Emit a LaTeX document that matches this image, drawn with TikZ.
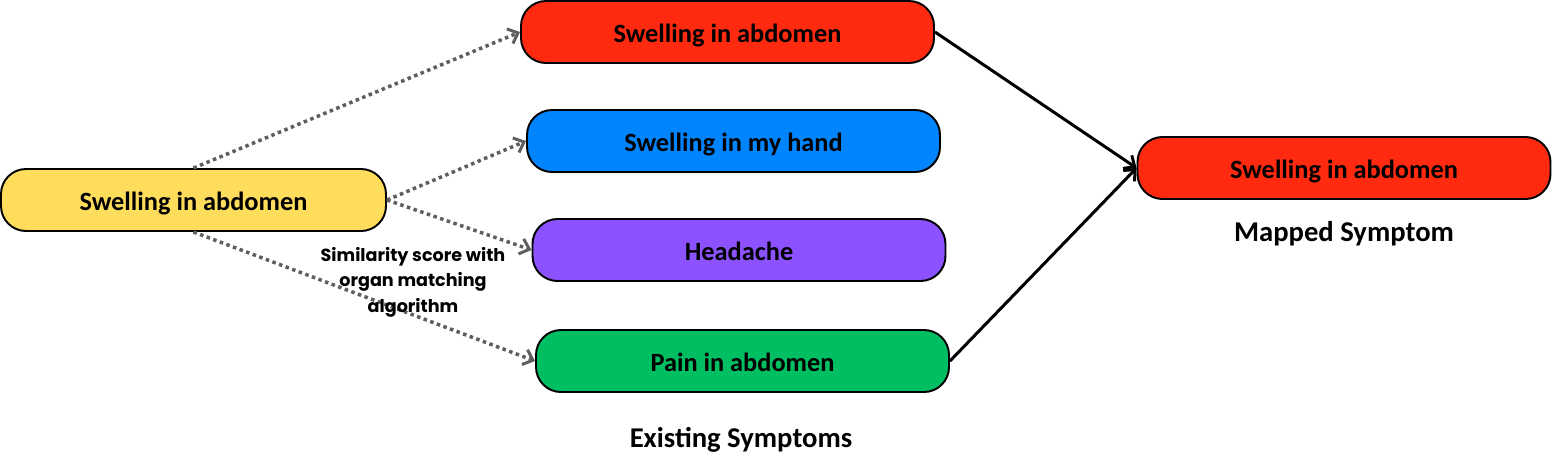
\documentclass[tikz,border=0pt]{standalone}
\usepackage{fontspec}
\setmainfont{Carlito}
\newfontfamily\popfont{Poppins}
\usetikzlibrary{arrows.meta,calc,positioning}

\definecolor{symYellow}{HTML}{FFDD5C}
\definecolor{symRed}{HTML}{FF2A10}
\definecolor{symBlue}{HTML}{0085FF}
\definecolor{symPurple}{HTML}{8C52FF}
\definecolor{symGreen}{HTML}{00BF63}
\definecolor{dotGray}{HTML}{5E5E5E}

\begin{document}
\begin{tikzpicture}[
  font=\fontsize{15}{17}\selectfont\bfseries,
  sym/.style={draw,rectangle,line width=1.1pt,minimum width=8.26cm,minimum height=1.24cm,
              align=center,rounded corners=0.5cm,text height=12pt,text depth=0pt},
  simwire/.style={draw=dotGray,line width=2pt,dash pattern=on 2pt off 2pt,
                  -{Straight Barb[length=5pt,width=9pt,line width=1.7pt]}},
  mapwire/.style={draw,line width=1.7pt,
                  -{Straight Barb[length=5pt,width=9pt,line width=1.7pt]}},
  caption/.style={font=\fontsize{16.3}{18}\selectfont\bfseries},
]
\useasboundingbox (0,0) rectangle (31.06,-9.2);

%% =====================================================
%%  Input symptom (left)
%% =====================================================
\node[sym,fill=symYellow,minimum width=7.7cm] (query) at (3.87,-4.0) {Swelling in abdomen};

%% =====================================================
%%  Existing symptoms stacked vertically
%% =====================================================
\node[sym,fill=symRed] (abdomen) at (14.55,-0.64) {Swelling in abdomen};
\node[sym,fill=symBlue] (hand) at (14.67,-2.82) {Swelling in my hand};
\node[sym,fill=symPurple] (headache) at (14.78,-5.0) {Headache};
\node[sym,fill=symGreen] (pain) at (14.85,-7.22) {Pain in abdomen};

\node[caption] (existing) at (14.82,-8.8) {Existing Symptoms};

% similarity links
\draw[simwire] (query.north) -- (abdomen.west);
\draw[simwire] (query.east) -- (hand.west);
\draw[simwire] (query.east) -- (headache.west);
\draw[simwire] (query.south) -- (pain.west);

\node[font=\popfont\fontsize{10}{14.5}\selectfont\bfseries,align=center] (simlabel) at (8.26,-5.64)
     {Similarity score with\\organ matching\\algorithm};

%% =====================================================
%%  Mapped symptom (right)
%% =====================================================
\node[sym,fill=symRed] (mapped) at (26.88,-3.36) {Swelling in abdomen};
\node[caption,below=0.3cm of mapped] (mappedlabel) {Mapped Symptom};

\draw[mapwire] (abdomen.east) -- (mapped.west);
\draw[mapwire] (pain.east) -- (mapped.west);

\end{tikzpicture}
\end{document}
